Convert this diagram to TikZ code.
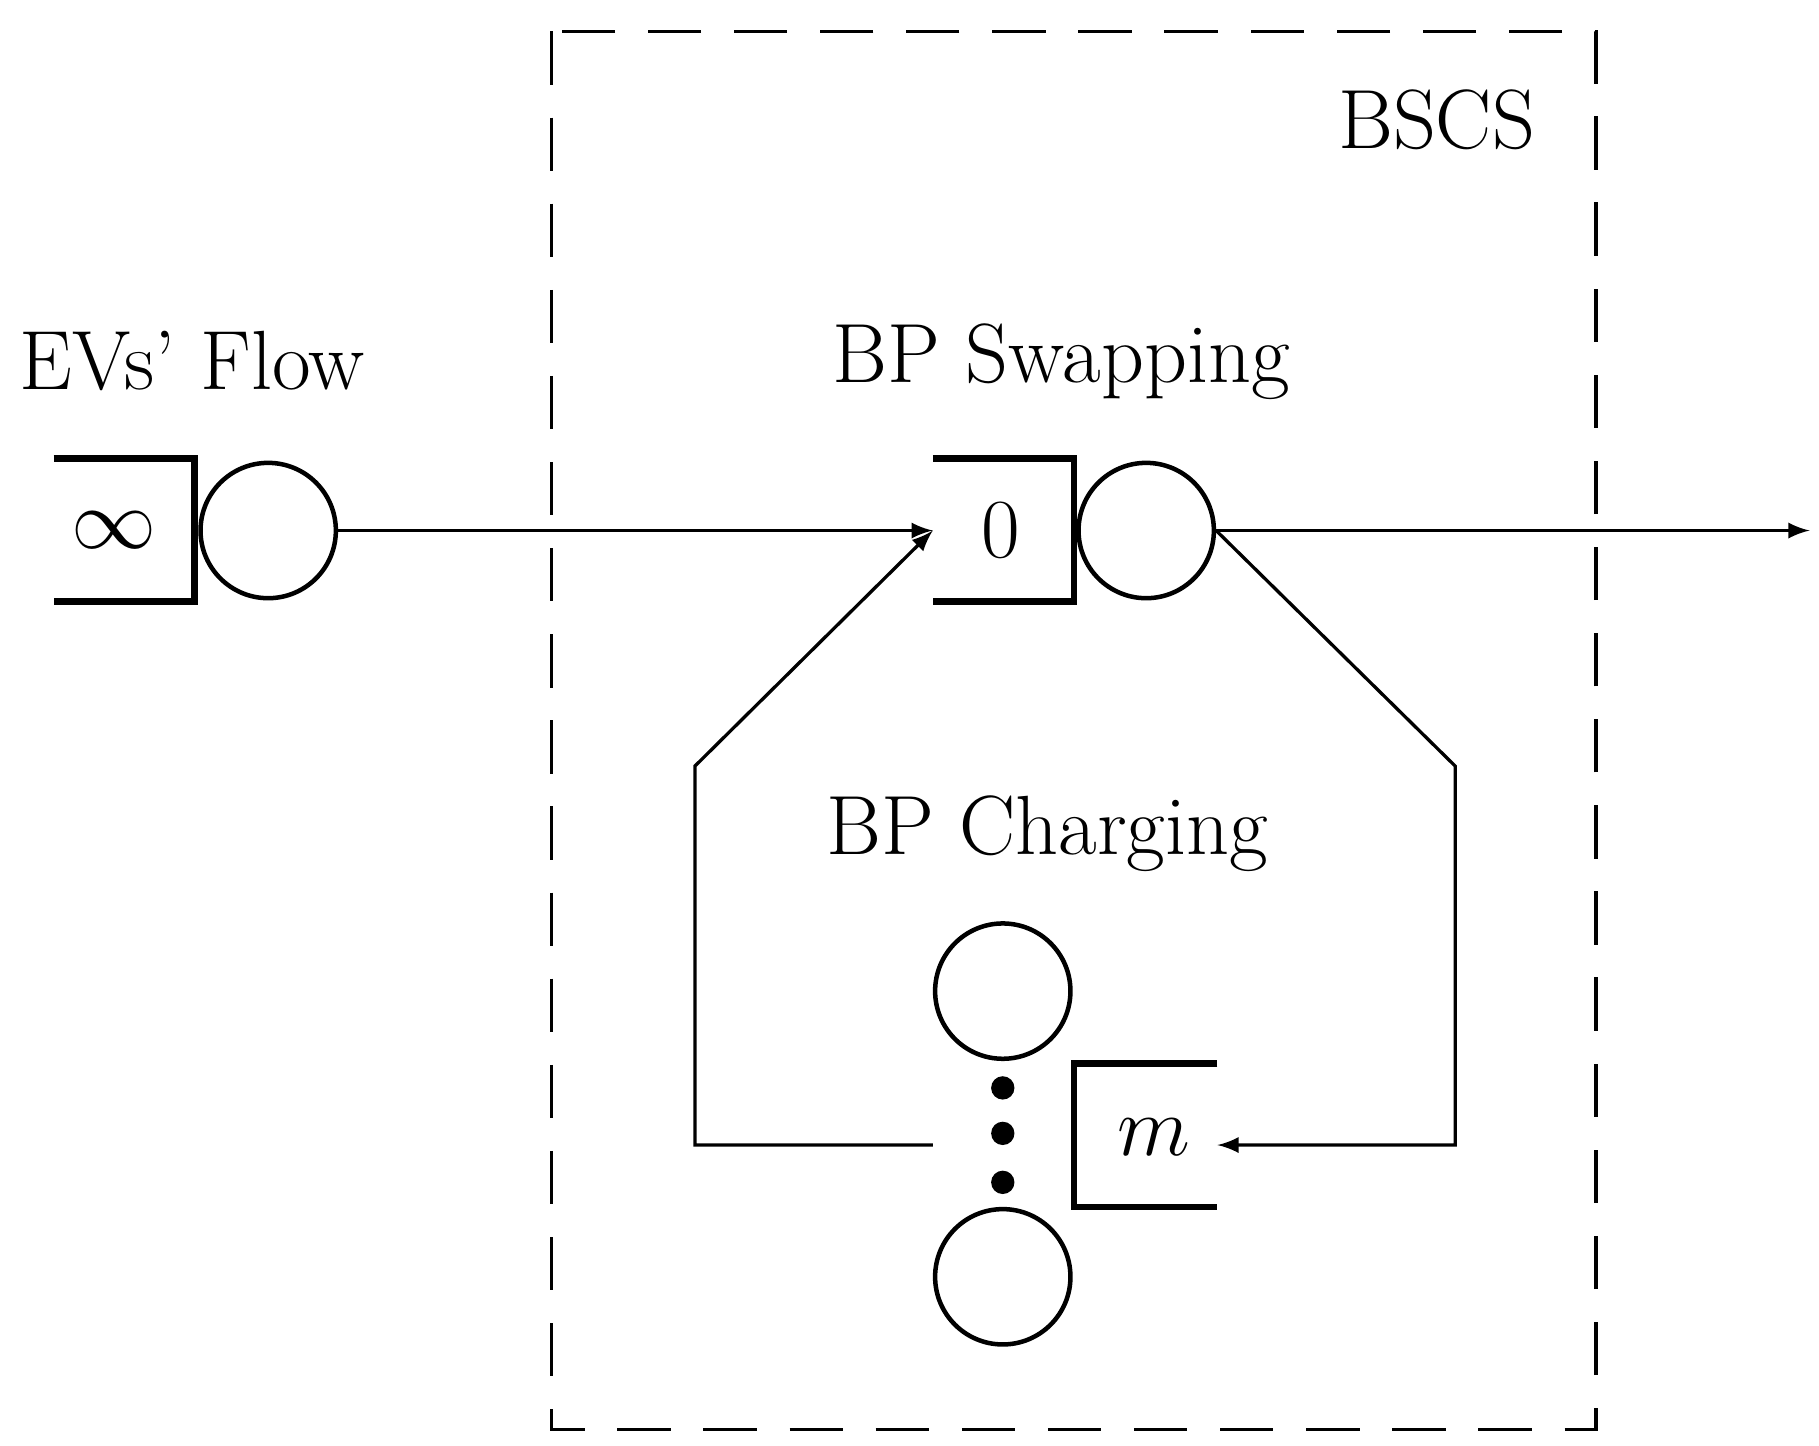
\documentclass[tikz,border=0pt]{standalone}
\begin{document}
\begin{tikzpicture}[x=0.01cm,y=-0.01cm,
  lbl/.style={font=\fontsize{20.5}{24}\selectfont},
  srv/.style={circle,draw,line width=1.1pt,minimum size=1.16cm,inner sep=0pt},
  brk/.style={line width=1.6pt},
  con/.style={line width=0.8pt},
  arr/.style={con,-latex}]
\useasboundingbox (0,0) rectangle (1560,1240);
\draw[dashed,line width=0.9pt,dash pattern=on 13pt off 8pt] (473,27) rectangle (1369,1226);
\node[lbl] (bscs) at (1232,103) {BSCS};
\node[lbl] (evs) at (165,310) {EVs' Flow};
\node[lbl] (bps) at (910,310) {BP Swapping};
\node[lbl] (bpc) at (898,715) {BP Charging};
% queue 1
\draw[brk] (46,393) -- (167,393) -- (167,516) -- (46,516);
\node[lbl] (inf) at (98,455) {$\infty$};
\node[srv] (s1) at (230,455) {};
% queue 2
\draw[brk] (800,393) -- (921,393) -- (921,516) -- (800,516);
\node[lbl] (zero) at (858,455) {0};
\node[srv] (s2) at (983,455) {};
% charging
\node[srv] (c1) at (860,850) {};
\node[srv] (c2) at (860,1095) {};
\foreach \y/\n in {933/d1,972/d2,1014/d3} \node[circle,fill,inner sep=0pt,minimum size=0.2cm] (\n) at (860,\y) {};
\draw[brk] (1044,912) -- (921,912) -- (921,1035) -- (1044,1035);
\node[lbl] (m) at (990,975) {$m$};
\coordinate (qin) at (800,455);
\coordinate (out) at (1552,455);
\coordinate (min) at (1044,982);
\coordinate (mout) at (800,982);
\draw[arr] (s1.east) -- (qin);
\draw[arr] (s2.east) -- (out);
\draw[arr] (s2.east) -- (1248,657) -- (1248,982) -- (min);
\draw[arr] (mout) -- (596,982) -- (596,657) -- (qin);
\end{tikzpicture}
\end{document}
